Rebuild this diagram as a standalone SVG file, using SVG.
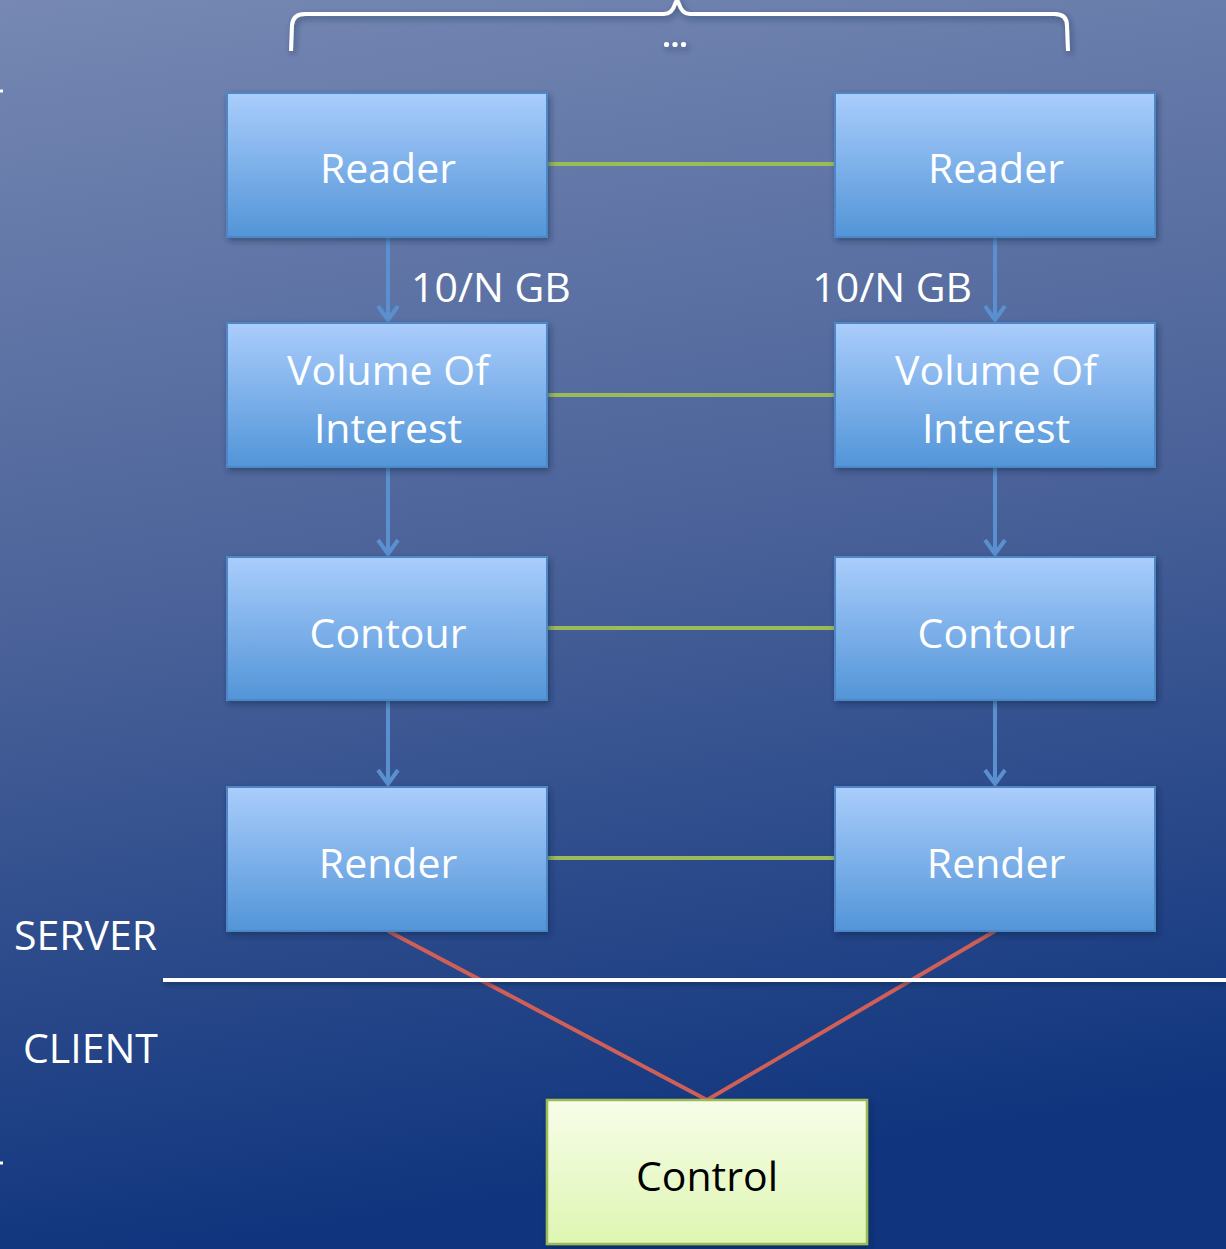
<svg xmlns="http://www.w3.org/2000/svg" width="1226" height="1249" viewBox="0 0 1226 1249">
<defs>
<linearGradient id="bg" x1="0" y1="0" x2="0.15" y2="1">
<stop offset="0" stop-color="#7688b3"/>
<stop offset="0.5" stop-color="#4a6299"/>
<stop offset="1" stop-color="#10357e"/>
</linearGradient>
<linearGradient id="blue" x1="0" y1="0" x2="0" y2="1">
<stop offset="0" stop-color="#aacdfc"/>
<stop offset="1" stop-color="#5295d8"/>
</linearGradient>
<linearGradient id="green" x1="0" y1="0" x2="0" y2="1">
<stop offset="0" stop-color="#f7fde9"/>
<stop offset="1" stop-color="#def6b2"/>
</linearGradient>
<filter id="sh" x="-10%" y="-10%" width="130%" height="130%">
<feDropShadow dx="2" dy="3" stdDeviation="3" flood-color="#102040" flood-opacity="0.45"/>
</filter>
<filter id="shu" filterUnits="userSpaceOnUse" x="150" y="960" width="1100" height="40">
<feDropShadow dx="1" dy="3" stdDeviation="2" flood-color="#102040" flood-opacity="0.45"/>
</filter>
<marker id="arr" viewBox="0 0 24 24" refX="21" refY="12" markerWidth="24" markerHeight="24" markerUnits="userSpaceOnUse" orient="auto">
<path d="M7 2 L21 12 L7 22" fill="none" stroke="#5a90cf" stroke-width="4"/>
</marker>
<style>
.box{fill:url(#blue);stroke:#4f86c6;stroke-width:2;filter:url(#sh)}
.ctl{fill:url(#green);stroke:#9bbb59;stroke-width:2.5;filter:url(#sh)}
.t{font-family:"Open Sans","Noto Sans",sans-serif;font-size:41px;fill:#ffffff;text-anchor:middle}
.lbl{font-family:"Open Sans","Noto Sans",sans-serif;font-size:41px;fill:#ffffff}
.g{stroke:#9bbb59;stroke-width:4;fill:none}
.r{stroke:#cf5f57;stroke-width:4;fill:none}
.a{stroke:#5a90cf;stroke-width:4;fill:none;marker-end:url(#arr)}
</style>
</defs>
<rect x="0" y="0" width="1226" height="1249" fill="url(#bg)"/>

<g id="brace" filter="url(#sh)">
<path d="M291 51 L292 25 Q293 14 305 14 L664 14 Q672 14 675 4 L677 0 L679 4 Q682 14 690 14 L1055 14 Q1067 14 1067 26 L1068 51" fill="none" stroke="#ffffff" stroke-width="4"/>
<text x="675" y="47" font-family="Open Sans, sans-serif" font-size="30" font-weight="bold" fill="#ffffff" text-anchor="middle">...</text>
</g>
<g id="ticks">
<line x1="0" y1="91" x2="3" y2="91" stroke="#ffffff" stroke-width="3"/>
<line x1="0" y1="1163" x2="3" y2="1163" stroke="#ffffff" stroke-width="3"/>
</g>

<g id="connectors">
<line class="g" x1="547" y1="164" x2="835" y2="164"/>
<line class="g" x1="547" y1="395" x2="835" y2="395"/>
<line class="g" x1="547" y1="628" x2="835" y2="628"/>
<line class="g" x1="547" y1="858" x2="835" y2="858"/>
<line class="a" x1="388" y1="237" x2="388" y2="320"/>
<line class="a" x1="995" y1="237" x2="995" y2="320"/>
<line class="a" x1="388" y1="467" x2="388" y2="554"/>
<line class="a" x1="995" y1="467" x2="995" y2="554"/>
<line class="a" x1="388" y1="700" x2="388" y2="784"/>
<line class="a" x1="995" y1="700" x2="995" y2="784"/>
<polyline class="r" points="388,931 707,1100 995,931"/>
</g>

<line id="divider" x1="163" y1="980" x2="1226" y2="980" stroke="#ffffff" stroke-width="4" filter="url(#shu)"/>

<g id="reader-l"><rect class="box" x="227" y="93" width="320" height="144"/><text class="t" x="388" y="183">Reader</text></g>
<g id="reader-r"><rect class="box" x="835" y="93" width="320" height="144"/><text class="t" x="996" y="183">Reader</text></g>
<g id="voi-l"><rect class="box" x="227" y="323" width="320" height="144"/><text class="t" x="388" y="385">Volume Of</text><text class="t" x="388" y="443">Interest</text></g>
<g id="voi-r"><rect class="box" x="835" y="323" width="320" height="144"/><text class="t" x="996" y="385">Volume Of</text><text class="t" x="996" y="443">Interest</text></g>
<g id="contour-l"><rect class="box" x="227" y="557" width="320" height="143"/><text class="t" x="388" y="648">Contour</text></g>
<g id="contour-r"><rect class="box" x="835" y="557" width="320" height="143"/><text class="t" x="996" y="648">Contour</text></g>
<g id="render-l"><rect class="box" x="227" y="787" width="320" height="144"/><text class="t" x="388" y="878">Render</text></g>
<g id="render-r"><rect class="box" x="835" y="787" width="320" height="144"/><text class="t" x="996" y="878">Render</text></g>
<g id="control"><rect class="ctl" x="547" y="1100" width="320" height="144"/><text class="t" x="707" y="1191" style="fill:#000000">Control</text></g>

<text class="lbl" x="411" y="302">10/N GB</text>
<text class="lbl" x="972" y="302" text-anchor="end">10/N GB</text>
<text class="lbl" x="14" y="950">SERVER</text>
<text class="lbl" x="23" y="1063">CLIENT</text>
</svg>
